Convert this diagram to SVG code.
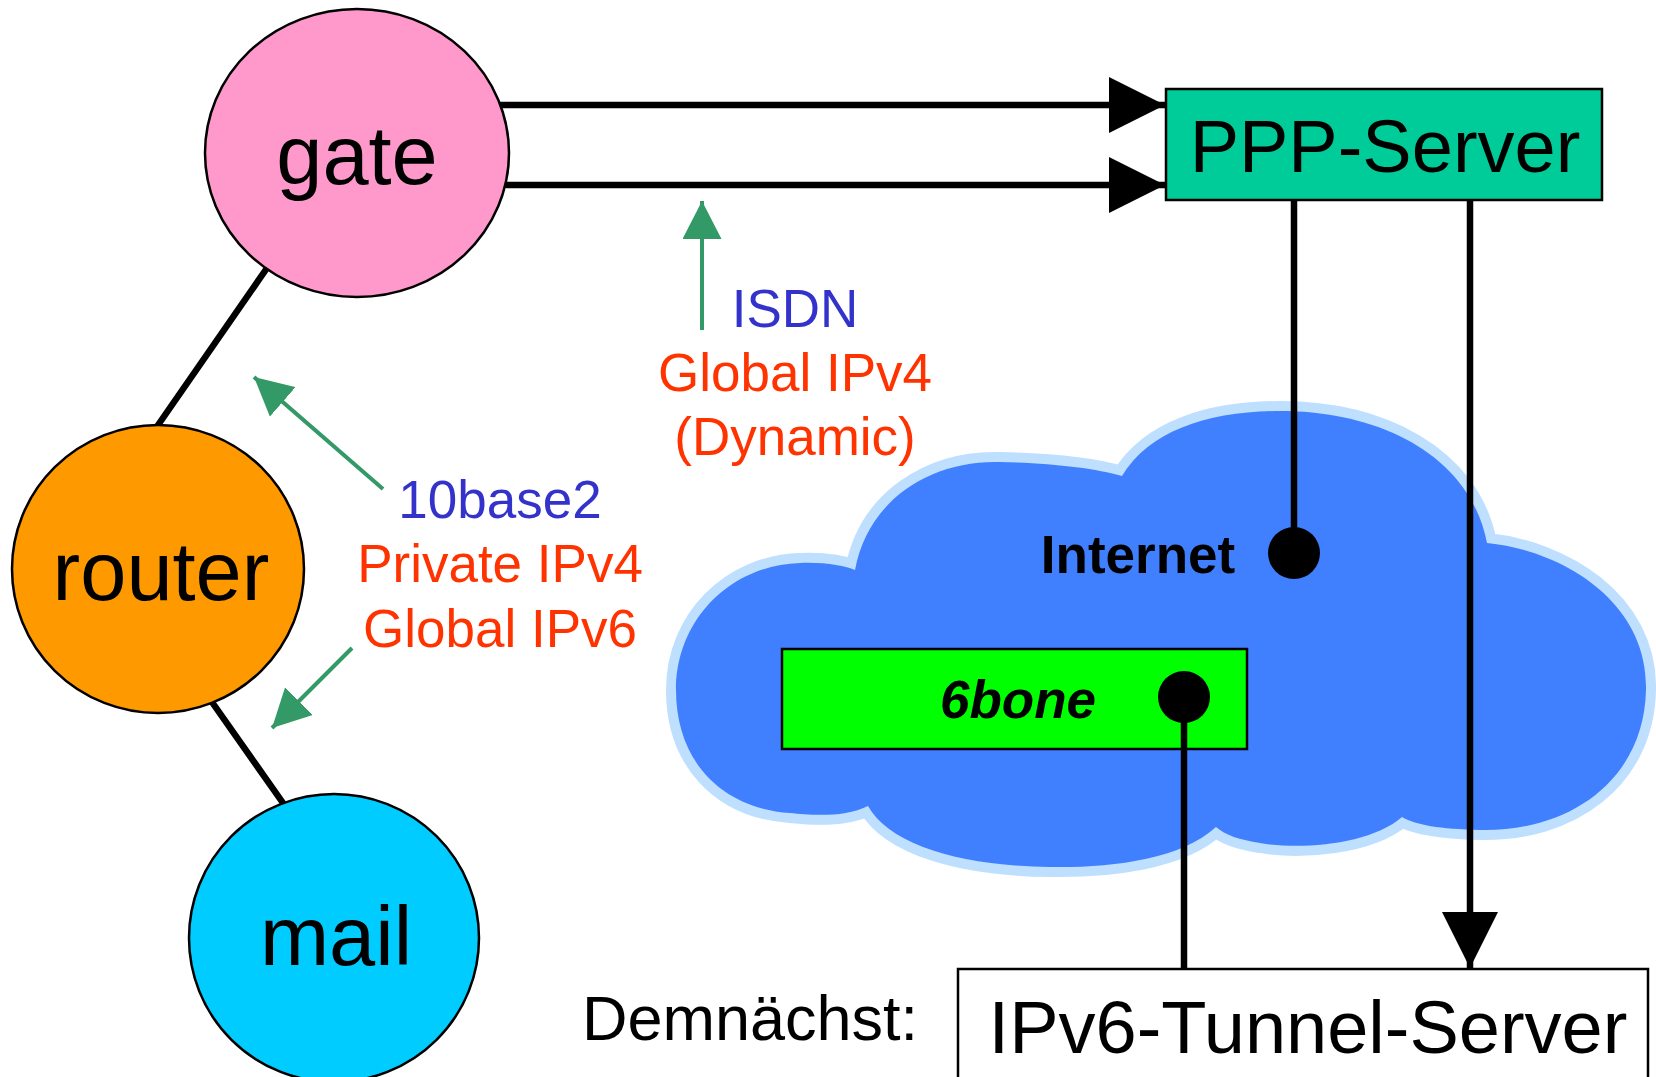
<svg xmlns="http://www.w3.org/2000/svg" width="1656" height="1077" viewBox="0 0 1656 1077">
<style>
.node{stroke:#000;stroke-width:2.5}
.lbl{font-family:"Liberation Sans",Arial,sans-serif;text-anchor:middle;fill:#000}
.big{font-size:83px}
.srv{font-size:74px}
.ann{font-size:53px}
.blue{fill:#3333CC}
.red{fill:#FF3300}
.blk{stroke:#000;stroke-width:6.5;fill:none;stroke-linecap:round}
.grn{stroke:#339966;stroke-width:4;fill:none}
</style>
<defs>
<marker id="ah" markerUnits="userSpaceOnUse" markerWidth="56" markerHeight="56" refX="56" refY="28" orient="auto">
<path d="M0,0 L56,28 L0,56 Z" fill="#000"/>
</marker>
<marker id="gh" markerUnits="userSpaceOnUse" markerWidth="39" markerHeight="39" refX="38" refY="19.5" orient="auto">
<path d="M0,0 L38,19.5 L0,39 Z" fill="#339966"/>
</marker>
<path id="cloudPath" d="M855,570 C868,500 930,460 1000,462 C1050,463 1095,468 1122,476 C1150,430 1210,411 1280,411 C1380,411 1470,455 1487,543 C1560,550 1648,600 1646,690 C1644,780 1570,832 1480,830 C1440,829 1415,825 1402,817 C1370,845 1300,850 1260,843 C1240,840 1225,835 1216,827 C1180,860 1110,868 1050,867 C960,866 890,845 868,806 C845,818 810,815 790,813 C720,808 676,760 676,690 C676,620 730,565 800,563 C825,562 845,566 855,570 Z"/>
</defs>

<g id="cloud">
<use href="#cloudPath" fill="#BFDFFF" stroke="#BFDFFF" stroke-width="20" stroke-linejoin="round"/>
<use href="#cloudPath" fill="#4080FF"/>
<text class="lbl" x="1138" y="573" font-size="53" font-weight="bold">Internet</text>
</g>

<g id="sixbone">
<rect x="782" y="649" width="465" height="100" fill="#00FF00" stroke="#000" stroke-width="2.5"/>
<text class="lbl" x="1018" y="718" font-size="53" font-weight="bold" font-style="italic">6bone</text>
</g>

<g id="connectors">
<line class="blk" x1="492" y1="105" x2="1165" y2="105" marker-end="url(#ah)"/>
<line class="blk" x1="507" y1="185" x2="1165" y2="185" marker-end="url(#ah)"/>
<line class="blk" x1="267" y1="268" x2="156" y2="428"/>
<line class="blk" x1="207" y1="695" x2="283" y2="803"/>
<line class="blk" x1="1294" y1="200" x2="1294" y2="553"/>
<circle cx="1294" cy="553" r="26" fill="#000"/>
<line class="blk" x1="1470" y1="200" x2="1470" y2="968" stroke-linecap="butt" marker-end="url(#ah)"/>
<circle cx="1184" cy="697" r="26" fill="#000"/>
<line class="blk" x1="1184" y1="697" x2="1184" y2="969"/>
<line class="grn" x1="383" y1="489" x2="254" y2="377" marker-end="url(#gh)"/>
<line class="grn" x1="352" y1="648" x2="272" y2="728" marker-end="url(#gh)"/>
<line class="grn" x1="702" y1="330" x2="702" y2="201" marker-end="url(#gh)"/>
</g>

<g id="gate">
<ellipse class="node" cx="357" cy="153" rx="152" ry="144" fill="#FF99CC"/>
<text class="lbl big" x="357" y="184">gate</text>
</g>

<g id="router">
<ellipse class="node" cx="158" cy="569" rx="146" ry="144" fill="#FF9900"/>
<text class="lbl big" x="161" y="600">router</text>
</g>

<g id="mail">
<ellipse class="node" cx="334" cy="938" rx="145" ry="144" fill="#00CCFF"/>
<text class="lbl big" x="336" y="965">mail</text>
</g>

<g id="ppp">
<rect x="1166" y="89" width="436" height="111" fill="#00CC99" stroke="#000" stroke-width="2.5"/>
<text class="lbl srv" x="1385" y="172">PPP-Server</text>
</g>

<g id="tunnel">
<rect x="958" y="969" width="690" height="140" fill="#fff" stroke="#000" stroke-width="2.5"/>
<text class="lbl srv" x="1308" y="1053">IPv6-Tunnel-Server</text>
</g>

<g id="labels">
<text class="lbl ann blue" x="795" y="327">ISDN</text>
<text class="lbl ann red" x="795" y="391">Global IPv4</text>
<text class="lbl ann red" x="795" y="455">(Dynamic)</text>
<text class="lbl ann blue" x="500" y="518">10base2</text>
<text class="lbl ann red" x="500" y="582">Private IPv4</text>
<text class="lbl ann red" x="500" y="647">Global IPv6</text>
<text class="lbl" x="750" y="1040" font-size="63">Demnächst:</text>
</g>
</svg>
